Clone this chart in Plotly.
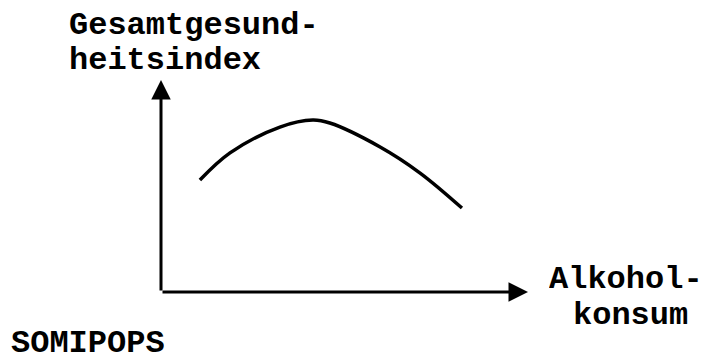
import plotly.graph_objects as go

# Alkoholkonsum (x) vs Gesamtgesundheitsindex (y), arbitrary units 0-10
konsum = [1.06, 1.88, 3.24, 4.14, 4.60, 5.97, 7.06, 8.20]
index = [5.28, 6.56, 7.78, 8.11, 7.97, 6.84, 5.61, 3.96]

y_label = ["Gesamtgesund-", "heitsindex"]
x_label = ["Alkohol-", "konsum"]
footer = "SOMIPOPS"

W, H = 707, 361
L, R, T, B = 161, 179, 80, 69
pw, ph = W - L - R, H - T - B


def px(x):
    return (x - L) / pw


def py(y):
    return (H - B - y) / ph


font = dict(family="Liberation Mono, Courier New, monospace", size=32, color="black",
            weight="bold")

fig = go.Figure()
fig.add_trace(go.Scatter(x=konsum, y=index, mode="lines",
                         line=dict(color="black", width=3.5, shape="spline", smoothing=1.0),
                         hoverinfo="skip", showlegend=False))

notes = []
# axes drawn as arrows
for hx, hy in [(0, 10), (10, 0)]:
    notes.append(dict(x=hx, y=hy, ax=0, ay=0, xref="x", yref="y", axref="x", ayref="y",
                      showarrow=True, arrowhead=2, arrowsize=1.3, arrowwidth=3,
                      arrowcolor="black", text=""))

labels = [
    dict(text=y_label[0], x=px(68), y=py(26), xanchor="left", yanchor="middle"),
    dict(text=y_label[1], x=px(68), y=py(60), xanchor="left", yanchor="middle"),
    dict(text=x_label[0], x=px(626), y=py(279), xanchor="center", yanchor="middle"),
    dict(text=x_label[1], x=px(630), y=py(315), xanchor="center", yanchor="middle"),
    dict(text=footer, x=px(10), y=py(361), xanchor="left", yanchor="bottom"),
]
for n in labels:
    n.update(xref="paper", yref="paper", showarrow=False, font=font, height=33, borderpad=0)
notes += labels

fig.update_layout(
    width=W, height=H,
    margin=dict(l=L, r=R, t=T, b=B),
    paper_bgcolor="white", plot_bgcolor="white",
    xaxis=dict(range=[0, 10], visible=False, fixedrange=True),
    yaxis=dict(range=[0, 10], visible=False, fixedrange=True),
    annotations=notes,
    showlegend=False,
)

fig.write_html("out.html", config={"displayModeBar": False},
               post_script="document.body.style.margin='0';")
